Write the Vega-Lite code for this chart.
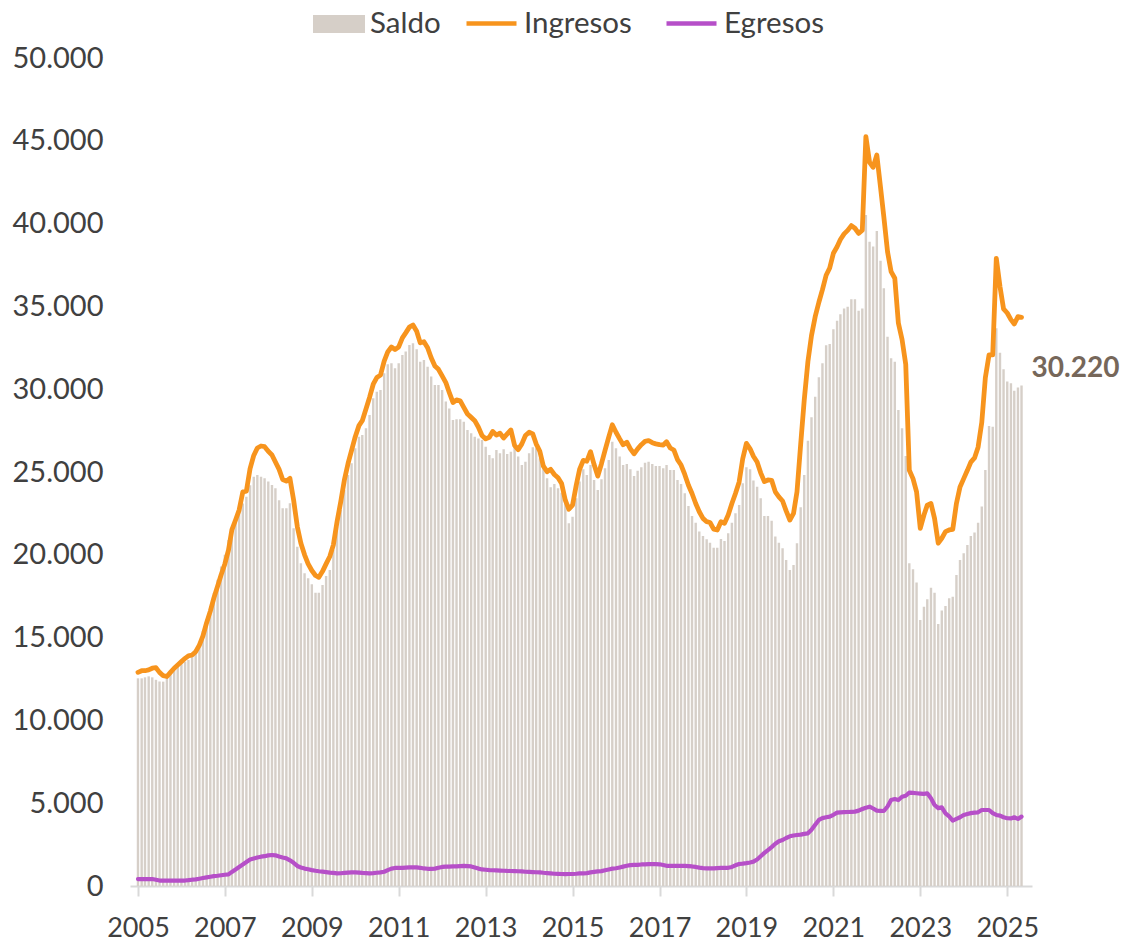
{
"$schema": "https://vega.github.io/schema/vega-lite/v6.json",
"width": 902,
"height": 828,
"autosize": "none",
"padding": {"left": 130, "top": 58, "right": 95, "bottom": 55},
"config": {
  "view": {"stroke": null},
  "font": "Lato",
  "locale": {"number": {"decimal": ",", "thousands": ".", "grouping": [3], "currency": ["", ""]}}
},
"data": {"values": [
{"d":"2005-01-01","s":12540,"i":12900,"e":420},{"d":"2005-02-01","s":12540,"i":13000,"e":420},{"d":"2005-03-01","s":12600,"i":13000,"e":420},{"d":"2005-04-01","s":12660,"i":13050,"e":410},{"d":"2005-05-01","s":12600,"i":13150,"e":420},{"d":"2005-06-01","s":12450,"i":13180,"e":380},{"d":"2005-07-01","s":12350,"i":12900,"e":330},{"d":"2005-08-01","s":12340,"i":12700,"e":320},{"d":"2005-09-01","s":12600,"i":12650,"e":320},{"d":"2005-10-01","s":12840,"i":12900,"e":320},{"d":"2005-11-01","s":13040,"i":13150,"e":320},{"d":"2005-12-01","s":13240,"i":13350,"e":320},
{"d":"2006-01-01","s":13400,"i":13550,"e":320},{"d":"2006-02-01","s":13550,"i":13750,"e":330},{"d":"2006-03-01","s":13650,"i":13900,"e":350},{"d":"2006-04-01","s":13850,"i":13950,"e":380},{"d":"2006-05-01","s":14150,"i":14150,"e":400},{"d":"2006-06-01","s":14750,"i":14550,"e":440},{"d":"2006-07-01","s":15400,"i":15100,"e":480},{"d":"2006-08-01","s":16100,"i":15900,"e":520},{"d":"2006-09-01","s":16900,"i":16600,"e":560},{"d":"2006-10-01","s":17700,"i":17400,"e":600},{"d":"2006-11-01","s":18500,"i":18100,"e":620},{"d":"2006-12-01","s":19300,"i":18800,"e":650},
{"d":"2007-01-01","s":20000,"i":19450,"e":680},{"d":"2007-02-01","s":20900,"i":20300,"e":700},{"d":"2007-03-01","s":21500,"i":21500,"e":850},{"d":"2007-04-01","s":22100,"i":22100,"e":1000},{"d":"2007-05-01","s":22600,"i":22700,"e":1150},{"d":"2007-06-01","s":23100,"i":23800,"e":1300},{"d":"2007-07-01","s":23500,"i":23850,"e":1450},{"d":"2007-08-01","s":24200,"i":25200,"e":1600},{"d":"2007-09-01","s":24720,"i":26000,"e":1660},{"d":"2007-10-01","s":24820,"i":26450,"e":1720},{"d":"2007-11-01","s":24720,"i":26570,"e":1770},{"d":"2007-12-01","s":24620,"i":26530,"e":1800},
{"d":"2008-01-01","s":24420,"i":26250,"e":1850},{"d":"2008-02-01","s":24220,"i":26030,"e":1870},{"d":"2008-03-01","s":24020,"i":25600,"e":1850},{"d":"2008-04-01","s":23300,"i":25160,"e":1780},{"d":"2008-05-01","s":22810,"i":24550,"e":1720},{"d":"2008-06-01","s":22810,"i":24450,"e":1670},{"d":"2008-07-01","s":23110,"i":24620,"e":1550},{"d":"2008-08-01","s":21600,"i":23300,"e":1400},{"d":"2008-09-01","s":20490,"i":21700,"e":1210},{"d":"2008-10-01","s":19490,"i":20700,"e":1120},{"d":"2008-11-01","s":18880,"i":20000,"e":1050},{"d":"2008-12-01","s":18580,"i":19450,"e":1010},
{"d":"2009-01-01","s":18220,"i":19050,"e":960},{"d":"2009-02-01","s":17710,"i":18750,"e":920},{"d":"2009-03-01","s":17710,"i":18640,"e":890},{"d":"2009-04-01","s":18180,"i":19000,"e":865},{"d":"2009-05-01","s":18720,"i":19450,"e":840},{"d":"2009-06-01","s":19080,"i":19900,"e":810},{"d":"2009-07-01","s":20290,"i":20600,"e":790},{"d":"2009-08-01","s":21700,"i":22000,"e":765},{"d":"2009-09-01","s":22710,"i":23200,"e":770},{"d":"2009-10-01","s":23910,"i":24500,"e":790},{"d":"2009-11-01","s":24820,"i":25500,"e":810},{"d":"2009-12-01","s":25530,"i":26300,"e":825},
{"d":"2010-01-01","s":26430,"i":27130,"e":825},{"d":"2010-02-01","s":27130,"i":27800,"e":810},{"d":"2010-03-01","s":27230,"i":28100,"e":790},{"d":"2010-04-01","s":27640,"i":28800,"e":775},{"d":"2010-05-01","s":28440,"i":29500,"e":765},{"d":"2010-06-01","s":29450,"i":30300,"e":780},{"d":"2010-07-01","s":29850,"i":30700,"e":800},{"d":"2010-08-01","s":29950,"i":30850,"e":825},{"d":"2010-09-01","s":30960,"i":31700,"e":860},{"d":"2010-10-01","s":31500,"i":32250,"e":960},{"d":"2010-11-01","s":31570,"i":32550,"e":1050},{"d":"2010-12-01","s":31260,"i":32400,"e":1090},
{"d":"2011-01-01","s":31570,"i":32550,"e":1090},{"d":"2011-02-01","s":32070,"i":33100,"e":1100},{"d":"2011-03-01","s":32270,"i":33400,"e":1110},{"d":"2011-04-01","s":32670,"i":33750,"e":1120},{"d":"2011-05-01","s":32770,"i":33880,"e":1130},{"d":"2011-06-01","s":32410,"i":33500,"e":1120},{"d":"2011-07-01","s":31660,"i":32800,"e":1100},{"d":"2011-08-01","s":31760,"i":32870,"e":1060},{"d":"2011-09-01","s":31360,"i":32500,"e":1040},{"d":"2011-10-01","s":30760,"i":31900,"e":1030},{"d":"2011-11-01","s":30260,"i":31400,"e":1050},{"d":"2011-12-01","s":30260,"i":31200,"e":1100},
{"d":"2012-01-01","s":29950,"i":30800,"e":1150},{"d":"2012-02-01","s":29250,"i":30400,"e":1170},{"d":"2012-03-01","s":28840,"i":29800,"e":1170},{"d":"2012-04-01","s":28140,"i":29200,"e":1180},{"d":"2012-05-01","s":28180,"i":29350,"e":1190},{"d":"2012-06-01","s":28180,"i":29300,"e":1200},{"d":"2012-07-01","s":28040,"i":28900,"e":1210},{"d":"2012-08-01","s":27540,"i":28500,"e":1200},{"d":"2012-09-01","s":27340,"i":28300,"e":1180},{"d":"2012-10-01","s":27130,"i":28100,"e":1120},{"d":"2012-11-01","s":27030,"i":27700,"e":1050},{"d":"2012-12-01","s":26930,"i":27200,"e":1000},
{"d":"2013-01-01","s":26530,"i":27000,"e":980},{"d":"2013-02-01","s":26030,"i":27100,"e":960},{"d":"2013-03-01","s":25830,"i":27450,"e":950},{"d":"2013-04-01","s":26330,"i":27230,"e":940},{"d":"2013-05-01","s":26130,"i":27340,"e":930},{"d":"2013-06-01","s":26370,"i":27050,"e":920},{"d":"2013-07-01","s":26090,"i":27300,"e":910},{"d":"2013-08-01","s":26230,"i":27540,"e":905},{"d":"2013-09-01","s":26630,"i":26600,"e":900},{"d":"2013-10-01","s":25930,"i":26350,"e":890},{"d":"2013-11-01","s":25420,"i":26700,"e":880},{"d":"2013-12-01","s":25620,"i":27200,"e":860},
{"d":"2014-01-01","s":26130,"i":27400,"e":850},{"d":"2014-02-01","s":26490,"i":27300,"e":840},{"d":"2014-03-01","s":26430,"i":26700,"e":830},{"d":"2014-04-01","s":25830,"i":26250,"e":825},{"d":"2014-05-01","s":25530,"i":25350,"e":800},{"d":"2014-06-01","s":24620,"i":25020,"e":780},{"d":"2014-07-01","s":24080,"i":25160,"e":760},{"d":"2014-08-01","s":24280,"i":24850,"e":740},{"d":"2014-09-01","s":24020,"i":24650,"e":730},{"d":"2014-10-01","s":23750,"i":24300,"e":725},{"d":"2014-11-01","s":23510,"i":23300,"e":720},{"d":"2014-12-01","s":21900,"i":22750,"e":725},
{"d":"2015-01-01","s":22300,"i":23000,"e":725},{"d":"2015-02-01","s":23410,"i":24200,"e":740},{"d":"2015-03-01","s":24420,"i":25150,"e":760},{"d":"2015-04-01","s":25160,"i":25700,"e":765},{"d":"2015-05-01","s":24820,"i":25650,"e":780},{"d":"2015-06-01","s":25420,"i":26230,"e":820},{"d":"2015-07-01","s":24520,"i":25450,"e":850},{"d":"2015-08-01","s":23910,"i":24750,"e":880},{"d":"2015-09-01","s":24560,"i":25500,"e":900},{"d":"2015-10-01","s":25220,"i":26300,"e":950},{"d":"2015-11-01","s":25730,"i":27100,"e":1000},{"d":"2015-12-01","s":26830,"i":27850,"e":1050},
{"d":"2016-01-01","s":26430,"i":27400,"e":1070},{"d":"2016-02-01","s":25930,"i":27000,"e":1120},{"d":"2016-03-01","s":25420,"i":26650,"e":1170},{"d":"2016-04-01","s":25480,"i":26800,"e":1220},{"d":"2016-05-01","s":25160,"i":26400,"e":1260},{"d":"2016-06-01","s":24760,"i":26100,"e":1270},{"d":"2016-07-01","s":25080,"i":26400,"e":1280},{"d":"2016-08-01","s":25280,"i":26650,"e":1300},{"d":"2016-09-01","s":25560,"i":26850,"e":1310},{"d":"2016-10-01","s":25620,"i":26900,"e":1320},{"d":"2016-11-01","s":25480,"i":26770,"e":1330},{"d":"2016-12-01","s":25360,"i":26700,"e":1320},
{"d":"2017-01-01","s":25360,"i":26650,"e":1310},{"d":"2017-02-01","s":25220,"i":26630,"e":1270},{"d":"2017-03-01","s":25420,"i":26830,"e":1220},{"d":"2017-04-01","s":25120,"i":26450,"e":1210},{"d":"2017-05-01","s":25120,"i":26330,"e":1210},{"d":"2017-06-01","s":24520,"i":25750,"e":1220},{"d":"2017-07-01","s":24280,"i":25420,"e":1220},{"d":"2017-08-01","s":23710,"i":24850,"e":1210},{"d":"2017-09-01","s":22950,"i":24200,"e":1200},{"d":"2017-10-01","s":22340,"i":23700,"e":1180},{"d":"2017-11-01","s":21940,"i":23100,"e":1150},{"d":"2017-12-01","s":21400,"i":22600,"e":1110},
{"d":"2018-01-01","s":21140,"i":22200,"e":1080},{"d":"2018-02-01","s":20940,"i":22000,"e":1070},{"d":"2018-03-01","s":20730,"i":21950,"e":1070},{"d":"2018-04-01","s":20430,"i":21550,"e":1070},{"d":"2018-05-01","s":20430,"i":21500,"e":1080},{"d":"2018-06-01","s":20950,"i":22000,"e":1090},{"d":"2018-07-01","s":20830,"i":21900,"e":1090},{"d":"2018-08-01","s":21300,"i":22400,"e":1100},{"d":"2018-09-01","s":21940,"i":23100,"e":1150},{"d":"2018-10-01","s":22510,"i":23700,"e":1250},{"d":"2018-11-01","s":23010,"i":24400,"e":1330},{"d":"2018-12-01","s":24320,"i":25800,"e":1350},
{"d":"2019-01-01","s":25280,"i":26730,"e":1380},{"d":"2019-02-01","s":25160,"i":26400,"e":1420},{"d":"2019-03-01","s":24480,"i":25950,"e":1470},{"d":"2019-04-01","s":24110,"i":25600,"e":1600},{"d":"2019-05-01","s":23410,"i":24950,"e":1800},{"d":"2019-06-01","s":22340,"i":24420,"e":2000},{"d":"2019-07-01","s":22340,"i":24520,"e":2170},{"d":"2019-08-01","s":22060,"i":24500,"e":2350},{"d":"2019-09-01","s":21100,"i":23800,"e":2550},{"d":"2019-10-01","s":20730,"i":23500,"e":2700},{"d":"2019-11-01","s":20390,"i":23250,"e":2780},{"d":"2019-12-01","s":19690,"i":22650,"e":2900},
{"d":"2020-01-01","s":19080,"i":22100,"e":3000},{"d":"2020-02-01","s":19380,"i":22500,"e":3050},{"d":"2020-03-01","s":20690,"i":23800,"e":3080},{"d":"2020-04-01","s":22870,"i":26670,"e":3100},{"d":"2020-05-01","s":24820,"i":29350,"e":3150},{"d":"2020-06-01","s":26890,"i":31670,"e":3180},{"d":"2020-07-01","s":28300,"i":33240,"e":3400},{"d":"2020-08-01","s":29550,"i":34380,"e":3700},{"d":"2020-09-01","s":30720,"i":35250,"e":3990},{"d":"2020-10-01","s":31560,"i":36010,"e":4100},{"d":"2020-11-01","s":32650,"i":36880,"e":4150},{"d":"2020-12-01","s":32730,"i":37320,"e":4190},
{"d":"2021-01-01","s":33620,"i":38210,"e":4300},{"d":"2021-02-01","s":34140,"i":38600,"e":4430},{"d":"2021-03-01","s":34520,"i":39040,"e":4450},{"d":"2021-04-01","s":34880,"i":39380,"e":4460},{"d":"2021-05-01","s":34980,"i":39590,"e":4470},{"d":"2021-06-01","s":35430,"i":39880,"e":4480},{"d":"2021-07-01","s":35430,"i":39720,"e":4490},{"d":"2021-08-01","s":34740,"i":39410,"e":4550},{"d":"2021-09-01","s":34880,"i":39600,"e":4650},{"d":"2021-10-01","s":40520,"i":45250,"e":4730},{"d":"2021-11-01","s":38910,"i":43700,"e":4790},{"d":"2021-12-01","s":38610,"i":43400,"e":4680},
{"d":"2022-01-01","s":39550,"i":44140,"e":4550},{"d":"2022-02-01","s":37760,"i":42200,"e":4540},{"d":"2022-03-01","s":36090,"i":40400,"e":4530},{"d":"2022-04-01","s":33170,"i":38300,"e":4800},{"d":"2022-05-01","s":31870,"i":37100,"e":5190},{"d":"2022-06-01","s":31660,"i":36700,"e":5250},{"d":"2022-07-01","s":28740,"i":34000,"e":5190},{"d":"2022-08-01","s":27640,"i":33000,"e":5390},{"d":"2022-09-01","s":25970,"i":31500,"e":5450},{"d":"2022-10-01","s":19490,"i":25100,"e":5640},{"d":"2022-11-01","s":19130,"i":24600,"e":5620},{"d":"2022-12-01","s":18320,"i":23800,"e":5600},
{"d":"2023-01-01","s":16060,"i":21600,"e":5580},{"d":"2023-02-01","s":16870,"i":22400,"e":5560},{"d":"2023-03-01","s":17310,"i":23000,"e":5600},{"d":"2023-04-01","s":18010,"i":23100,"e":5300},{"d":"2023-05-01","s":17710,"i":22200,"e":4890},{"d":"2023-06-01","s":15820,"i":20700,"e":4700},{"d":"2023-07-01","s":16630,"i":21000,"e":4750},{"d":"2023-08-01","s":16910,"i":21400,"e":4390},{"d":"2023-09-01","s":17370,"i":21500,"e":4200},{"d":"2023-10-01","s":17470,"i":21540,"e":3950},{"d":"2023-11-01","s":18780,"i":23100,"e":4050},{"d":"2023-12-01","s":19690,"i":24100,"e":4150},
{"d":"2024-01-01","s":20090,"i":24600,"e":4290},{"d":"2024-02-01","s":20590,"i":25100,"e":4350},{"d":"2024-03-01","s":21140,"i":25600,"e":4400},{"d":"2024-04-01","s":21340,"i":25850,"e":4430},{"d":"2024-05-01","s":21940,"i":26500,"e":4450},{"d":"2024-06-01","s":22910,"i":28000,"e":4590},{"d":"2024-07-01","s":25120,"i":30700,"e":4590},{"d":"2024-08-01","s":27780,"i":32070,"e":4590},{"d":"2024-09-01","s":27740,"i":32070,"e":4400},{"d":"2024-10-01","s":33680,"i":37900,"e":4290},{"d":"2024-11-01","s":32200,"i":36200,"e":4250},{"d":"2024-12-01","s":31200,"i":34850,"e":4150},
{"d":"2025-01-01","s":30460,"i":34600,"e":4090},{"d":"2025-02-01","s":30360,"i":34200,"e":4080},{"d":"2025-03-01","s":29910,"i":33940,"e":4150},{"d":"2025-04-01","s":30110,"i":34380,"e":4050},{"d":"2025-05-01","s":30220,"i":34340,"e":4190}
]},
"layer": [
  {
    "mark": {"type": "bar", "size": 2.4},
    "encoding": {
      "x": {"field": "d", "type": "temporal",
        "scale": {"type": "utc", "domain": [{"year": 2004, "month": 12, "date": 7, "utc": true}, {"year": 2025, "month": 6, "date": 16, "utc": true}]},
        "axis": {
          "values": [{"year": 2005, "utc": true}, {"year": 2007, "utc": true}, {"year": 2009, "utc": true}, {"year": 2011, "utc": true}, {"year": 2013, "utc": true}, {"year": 2015, "utc": true}, {"year": 2017, "utc": true}, {"year": 2019, "utc": true}, {"year": 2021, "utc": true}, {"year": 2023, "utc": true}, {"year": 2025, "utc": true}],
          "labelExpr": "utcFormat(datum.value, '%Y')",
          "title": null, "grid": false,
          "domainColor": "#d9d9d9", "domainWidth": 2,
          "tickColor": "#d9d9d9", "tickWidth": 2, "tickSize": 10,
          "labelFontSize": 27, "labelColor": "#404040", "labelPadding": 19,
          "labelFlush": false, "labelOverlap": false
        }},
      "y": {"field": "s", "type": "quantitative",
        "scale": {"domain": [0, 50000], "nice": false, "zero": true},
        "axis": {
          "values": [0, 5000, 10000, 15000, 20000, 25000, 30000, 35000, 40000, 45000, 50000],
          "format": ",.0f", "title": null, "grid": false, "domain": false, "ticks": false,
          "labelFontSize": 29, "labelColor": "#404040", "labelPadding": 27
        }},
      "color": {"datum": "Saldo", "type": "nominal",
        "scale": {"domain": ["Saldo"], "range": ["#d6cfc8"]},
        "legend": {"title": null, "orient": "none", "legendX": 183, "legendY": -60, "symbolType": "M-1,-0.35H1V0.35H-1Z", "symbolSize": 2704, "symbolStrokeWidth": 0, "symbolOpacity": 1, "labelFontSize": 29.5, "labelColor": "#404040", "labelOffset": 5}}
    }
  },
  {
    "mark": {"type": "line", "strokeWidth": 4.8, "strokeJoin": "round", "strokeCap": "round"},
    "encoding": {
      "x": {"field": "d", "type": "temporal"},
      "y": {"field": "i", "type": "quantitative"},
      "stroke": {"datum": "Ingresos", "type": "nominal",
        "scale": {"domain": ["Ingresos", "Egresos"], "range": ["#f7941d", "#b64fc8"]},
        "legend": {"title": null, "orient": "none", "legendX": 334, "legendY": -62, "direction": "horizontal", "symbolType": "stroke", "symbolSize": 2500, "symbolStrokeWidth": 4.5, "labelFontSize": 29.5, "labelColor": "#404040", "labelOffset": 5, "columnPadding": 25}}
    }
  },
  {
    "mark": {"type": "line", "strokeWidth": 4.2, "strokeJoin": "round", "strokeCap": "round"},
    "encoding": {
      "x": {"field": "d", "type": "temporal"},
      "y": {"field": "e", "type": "quantitative"},
      "stroke": {"datum": "Egresos", "type": "nominal"}
    }
  },
  {
    "transform": [{"filter": "datum.s == 30220"}],
    "mark": {"type": "text", "align": "left", "baseline": "middle", "dx": 10, "dy": -17, "fontSize": 28, "fontWeight": "bold", "color": "#76675a"},
    "encoding": {
      "x": {"field": "d", "type": "temporal"},
      "y": {"field": "s", "type": "quantitative"},
      "text": {"field": "s", "type": "quantitative", "format": ",.0f"}
    }
  }
]
}
